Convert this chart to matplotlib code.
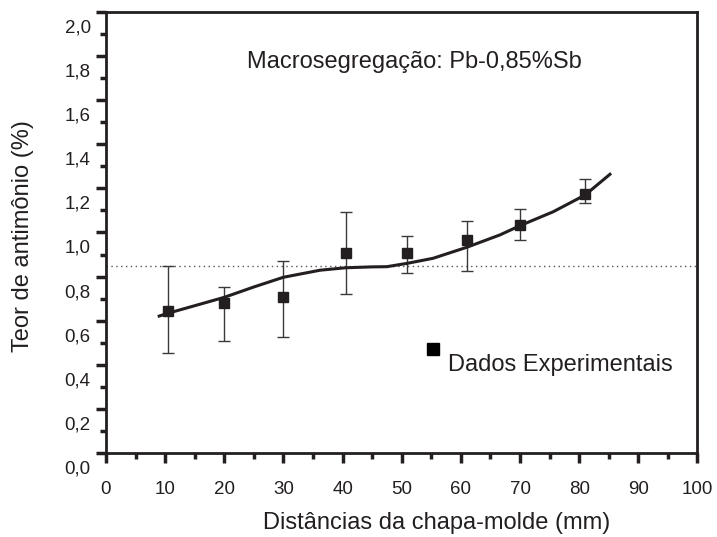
import numpy as np
import matplotlib
matplotlib.use("Agg")
import matplotlib.pyplot as plt
import matplotlib.transforms as mtransforms
from matplotlib.ticker import MultipleLocator, FuncFormatter

plt.rcParams['font.family'] = ['Liberation Sans', 'DejaVu Sans']

# experimental points (distance mm, Sb content %)
dist = [10.5, 20.0, 30.0, 40.5, 50.9, 61.0, 70.0, 81.0]
teor = [0.645, 0.679, 0.706, 0.906, 0.906, 0.966, 1.034, 1.173]
err_low = [0.190, 0.171, 0.181, 0.184, 0.091, 0.142, 0.068, 0.041]
err_high = [0.203, 0.075, 0.166, 0.186, 0.078, 0.088, 0.071, 0.070]

# fitted curve
curve_x = [9.0, 10.5, 15, 20, 25, 30, 36.2, 40.5, 45, 47.5, 50.9, 55.3, 61.0, 66.6, 70.0, 75.6, 81.0, 85.2]
curve_y = [0.621, 0.634, 0.668, 0.706, 0.753, 0.797, 0.829, 0.840, 0.844, 0.845, 0.860, 0.883, 0.933, 0.989, 1.031, 1.094, 1.170, 1.264]

nominal = 0.85
dark = '#231f20'

fig = plt.figure(figsize=(7.17, 5.37), dpi=100)
ax = fig.add_axes([0.1478, 0.1564, 0.825, 0.8213])

ax.axhline(nominal, color='#555555', lw=1, ls=(0, (1, 2.5)), zorder=1)
ax.plot(curve_x, curve_y, color=dark, lw=2.2, zorder=3)
ax.errorbar(dist, teor, yerr=[err_low, err_high], fmt='none', ecolor='#3a3a3a',
            elinewidth=1, capsize=4, capthick=1, zorder=2)
ax.plot(dist, teor, 's', color=dark, ms=7.5, zorder=4)

ax.set_xlim(0, 100)
ax.set_ylim(0, 2.0)
ax.xaxis.set_major_locator(MultipleLocator(10))
ax.xaxis.set_minor_locator(MultipleLocator(5))
ax.yaxis.set_major_locator(MultipleLocator(0.2))
ax.yaxis.set_minor_locator(MultipleLocator(0.1))
ax.yaxis.set_major_formatter(FuncFormatter(lambda v, p: f"{v:.1f}".replace('.', ',')))

for s in ax.spines.values():
    s.set_linewidth(2)
    s.set_color(dark)
ax.tick_params(which='major', direction='out', length=7, width=2.5, color=dark,
               labelsize=13.5, labelcolor=dark, top=False, right=False)
ax.tick_params(which='minor', direction='out', length=4, width=2.5, color=dark,
               top=False, right=False)
ax.tick_params(axis='x', which='major', pad=13)
ax.tick_params(axis='y', which='major', pad=4)

# y labels sit a bit below their ticks in the original
shift = mtransforms.ScaledTranslation(0, -14 / 100, fig.dpi_scale_trans)
for lab in ax.get_yticklabels():
    lab.set_transform(lab.get_transform() + shift)

ax.text(0.239, 0.886, "Macrosegregação: Pb-0,85%Sb", transform=ax.transAxes,
        fontsize=17, color=dark, va='center', ha='left')

ax.plot([55.3], [0.472], 's', color='black', ms=8)
ax.text(57.8, 0.40, "Dados Experimentais", fontsize=17, color=dark, va='center', ha='left')

fig.text(437 / 717, 1 - 523 / 537, "Distâncias da chapa-molde (mm)", fontsize=17,
         color=dark, ha='center', va='center')
fig.text(23 / 717, 1 - 236 / 537, "Teor de antimônio (%)", fontsize=17,
         color=dark, ha='center', va='center', rotation=90)

fig.savefig('out.png', dpi=100)
